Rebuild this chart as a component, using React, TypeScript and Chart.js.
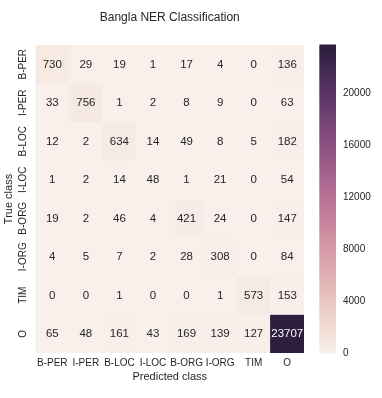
import React, { useEffect, useRef } from "react";
import { Chart, registerables } from "chart.js";

Chart.register(...registerables);

const classLabels = ["B-PER", "I-PER", "B-LOC", "I-LOC", "B-ORG", "I-ORG", "TIM", "O"];

const trueBPER = [730, 29, 19, 1, 17, 4, 0, 136];
const trueIPER = [33, 756, 1, 2, 8, 9, 0, 63];
const trueBLOC = [12, 2, 634, 14, 49, 8, 5, 182];
const trueILOC = [1, 2, 14, 48, 1, 21, 0, 54];
const trueBORG = [19, 2, 46, 4, 421, 24, 0, 147];
const trueIORG = [4, 5, 7, 2, 28, 308, 0, 84];
const trueTIM = [0, 0, 1, 0, 0, 1, 573, 153];
const trueO = [65, 48, 161, 43, 169, 139, 127, 23707];

const colorbarTicks = [0, 4000, 8000, 12000, 16000, 20000];

const titleText = "Bangla NER Classification";
const xTitle = "Predicted class";
const yTitle = "True class";

const matrix = [trueBPER, trueIPER, trueBLOC, trueILOC, trueBORG, trueIORG, trueTIM, trueO];
const vmax = Math.max(...matrix.map((r) => Math.max(...r)));

const FONT = "'Liberation Sans', Arial, Helvetica, sans-serif";
const TEXT = "#262626";

// seaborn cubehelix_palette(light=.95, dark=.15, start=0, rot=.4, hue=.8)
function cubehelixRGB(x: number): [number, number, number] {
  const gamma = 1, start = 0, rot = 0.4, hue = 0.8;
  const f = (p0: number, p1: number) => {
    const xg = Math.pow(x, gamma);
    const a = (hue * xg * (1 - xg)) / 2;
    const phi = 2 * Math.PI * (start / 3 + rot * x);
    const v = xg + a * (p0 * Math.cos(phi) + p1 * Math.sin(phi));
    return Math.min(1, Math.max(0, v));
  };
  return [f(-0.14861, 1.78277), f(-0.29227, -0.90649), f(1.97294, 0)];
}
const LIGHT = 0.95, DARK = 0.15;
function rgbFor(v: number): [number, number, number] {
  const t = Math.min(1, Math.max(0, v / vmax));
  const idx = Math.min(255, Math.floor(t * 256));
  const x = LIGHT + ((DARK - LIGHT) * idx) / 255;
  return cubehelixRGB(x);
}
function cssFor(v: number) {
  const [r, g, b] = rgbFor(v);
  return `rgb(${Math.round(r * 255)},${Math.round(g * 255)},${Math.round(b * 255)})`;
}
function textColorFor(v: number) {
  const lin = rgbFor(v).map((c) => (c <= 0.03928 ? c / 12.92 : Math.pow((c + 0.055) / 1.055, 2.4)));
  const lum = 0.2126 * lin[0] + 0.7152 * lin[1] + 0.0722 * lin[2];
  return lum > 0.408 ? TEXT : "#ffffff";
}

const heatPlugin = {
  id: "heatText",
  afterDatasetsDraw(chart: any) {
    const ctx = chart.ctx;
    const area = chart.chartArea;
    const yScale = chart.scales.y;
    const cb = chart.scales.cb;
    ctx.save();
    // cell annotations
    ctx.font = `11.5px ${FONT}`;
    ctx.textAlign = "center";
    ctx.textBaseline = "middle";
    matrix.forEach((row, r) => {
      const meta = chart.getDatasetMeta(r);
      row.forEach((v, c) => {
        const el: any = meta.data[c];
        if (!el) return;
        const cy = (el.y + el.base) / 2;
        ctx.fillStyle = textColorFor(v);
        ctx.fillText(String(v), el.x, cy + 0.5);
      });
    });
    // title
    ctx.fillStyle = TEXT;
    ctx.font = `12px ${FONT}`;
    ctx.fillText(titleText, (area.left + area.right) / 2, 17.5);
    // x title
    ctx.font = `11px ${FONT}`;
    ctx.fillText(xTitle, (area.left + area.right) / 2, 377);
    // row labels (rotated)
    ctx.font = `10px ${FONT}`;
    classLabels.forEach((lab, r) => {
      const y = yScale.getPixelForValue(r + 0.5);
      ctx.save();
      ctx.translate(23.5, y);
      ctx.rotate(-Math.PI / 2);
      ctx.fillText(lab, 0, 0);
      ctx.restore();
    });
    // y title
    ctx.font = `11px ${FONT}`;
    ctx.save();
    ctx.translate(9, (area.top + area.bottom) / 2);
    ctx.rotate(-Math.PI / 2);
    ctx.fillText(yTitle, 0, 0);
    ctx.restore();
    // colorbar
    const x0 = cb.left + 15.5;
    const w = 16.5;
    for (let i = 0; i < 256; i++) {
      const v0 = (vmax * i) / 256;
      const v1 = (vmax * (i + 1)) / 256;
      const p0 = cb.getPixelForValue(v0);
      const p1 = cb.getPixelForValue(v1);
      ctx.fillStyle = cssFor((v0 + v1) / 2);
      ctx.fillRect(x0, p1 - 0.5, w, p0 - p1 + 1);
    }
    ctx.restore();
  },
};

export default function App() {
  const ref = useRef<HTMLCanvasElement | null>(null);
  useEffect(() => {
    if (!ref.current) return;
    const chart = new Chart(ref.current, {
      type: "bar",
      data: {
        labels: classLabels,
        datasets: matrix.map((row, r) => ({
          label: classLabels[r],
          data: row.map(() => [r, r + 1]),
          backgroundColor: row.map((v) => cssFor(v)),
          borderWidth: 0,
          grouped: false,
          barPercentage: 1,
          categoryPercentage: 1,
        })) as any,
      },
      options: {
        responsive: false,
        maintainAspectRatio: false,
        animation: false,
        events: [],
        layout: { padding: { top: 27, left: 0, right: 0, bottom: 0 } },
        plugins: {
          legend: { display: false },
          tooltip: { enabled: false },
          title: { display: false },
        },
        scales: {
          x: {
            type: "category",
            offset: true,
            grid: { display: false, drawTicks: false },
            border: { display: false },
            ticks: {
              font: { family: FONT, size: 10 },
              color: TEXT,
              padding: 4,
              minRotation: 0,
              maxRotation: 0,
              autoSkip: false,
            },
            afterFit: (s: any) => {
              s.height = 45;
            },
          },
          y: {
            type: "linear",
            min: 0,
            max: 8,
            reverse: true,
            grid: { display: false, drawTicks: false },
            border: { display: false },
            ticks: { display: false },
            afterFit: (s: any) => {
              s.width = 35.5;
            },
          },
          cb: {
            type: "linear",
            position: "right",
            min: 0,
            max: vmax,
            grid: { display: false, drawTicks: false },
            border: { display: false },
            ticks: {
              font: { family: FONT, size: 10 },
              color: TEXT,
              padding: 39,
              callback: (v: any) => String(v),
            },
            afterBuildTicks: (s: any) => {
              s.ticks = colorbarTicks.map((v) => ({ value: v }));
            },
            afterFit: (s: any) => {
              s.width = 78;
            },
          },
        } as any,
      },
      plugins: [heatPlugin],
    });
    return () => chart.destroy();
  }, []);
  return (
    <div style={{ position: "fixed", left: 0, top: 0, width: 382, height: 398, background: "#fff" }}>
      <canvas ref={ref} width={382} height={398} style={{ display: "block" }} />
    </div>
  );
}
